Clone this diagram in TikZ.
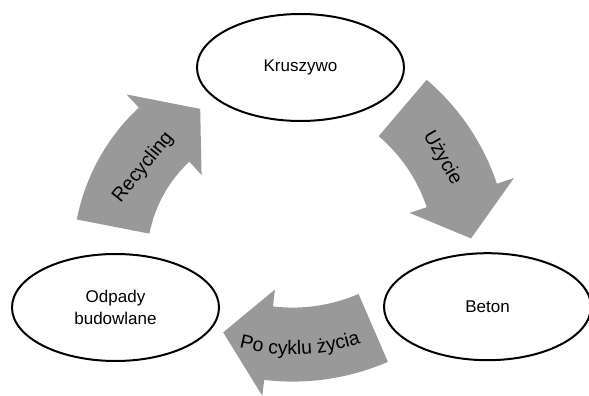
\documentclass[tikz,border=0pt]{standalone}
\usepackage{fontspec}
\setmainfont{Liberation Sans}
\usetikzlibrary{shapes.geometric,decorations.text}
\definecolor{arrowgray}{RGB}{153,153,153}
\newcommand\nodefont{\fontsize{17}{22}\selectfont}
\newcommand\arrowfont{\fontsize{19.5}{23}\selectfont}
\tikzset{
  arrowfill/.style={fill=arrowgray,draw=none},
  stagebox/.style={ellipse,draw=black,line width=2pt,fill=white,
    minimum width=207pt,minimum height=107pt,inner sep=0pt,
    font=\nodefont,align=center},
  arrowtext/.style={font=\arrowfont,inner sep=0pt}
}
\begin{document}
\begin{tikzpicture}[x=1pt,y=1pt]
\useasboundingbox (0,0) rectangle (589,396);
% right arrow (Kruszywo -> Beton)
\begin{scope}[shift={(275,138)}]
\fill[arrowfill] (49.6:234pt) arc[start angle=49.6,end angle=18.5,radius=234pt]
  -- (18.5:252pt) -- (5.7:197pt) -- (18.5:142pt) -- (18.5:160pt)
  arc[start angle=18.5,end angle=49.6,radius=160pt] -- cycle;
\end{scope}
% left arrow (Odpady -> Kruszywo)
\begin{scope}[shift={(280,137)}]
\fill[arrowfill] (169:207pt) arc[start angle=169,end angle=133,radius=207pt]
  -- (133:225pt) -- (118:170pt) -- (133:115pt) -- (133:133pt)
  arc[start angle=133,end angle=169,radius=133pt] -- cycle;
\end{scope}
% bottom arrow (Beton -> Odpady)
\begin{scope}[shift={(292.6,254.4)}]
\fill[arrowfill] (-66.6:240pt) arc[start angle=-66.6,end angle=-96.8,radius=240pt]
  -- (-96.8:256pt) -- (-110:203pt) -- (-96.8:149pt) -- (-96.8:166pt)
  arc[start angle=-96.8,end angle=-66.6,radius=166pt] -- cycle;
\path[decorate,decoration={text along path,text align=center,
  text={|\arrowfont|Po cyklu życia}}]
  (-112.9:213pt) arc[start angle=-112.9,end angle=-62.9,radius=213pt];
\end{scope}
% arrow labels
\node[arrowtext,rotate=-60] (uzycie) at (442.2,238) {Użycie};
\node[arrowtext,rotate=51] (recycling) at (143.3,228.7) {Recycling};
% stages
\node[stagebox] (kruszywo) at (300.5,328.5) {Kruszywo};
\node[stagebox] (beton) at (487.5,89.3) {Beton};
\node[stagebox] (odpady) at (115.5,88.5) {Odpady\\budowlane};
\end{tikzpicture}
\end{document}
